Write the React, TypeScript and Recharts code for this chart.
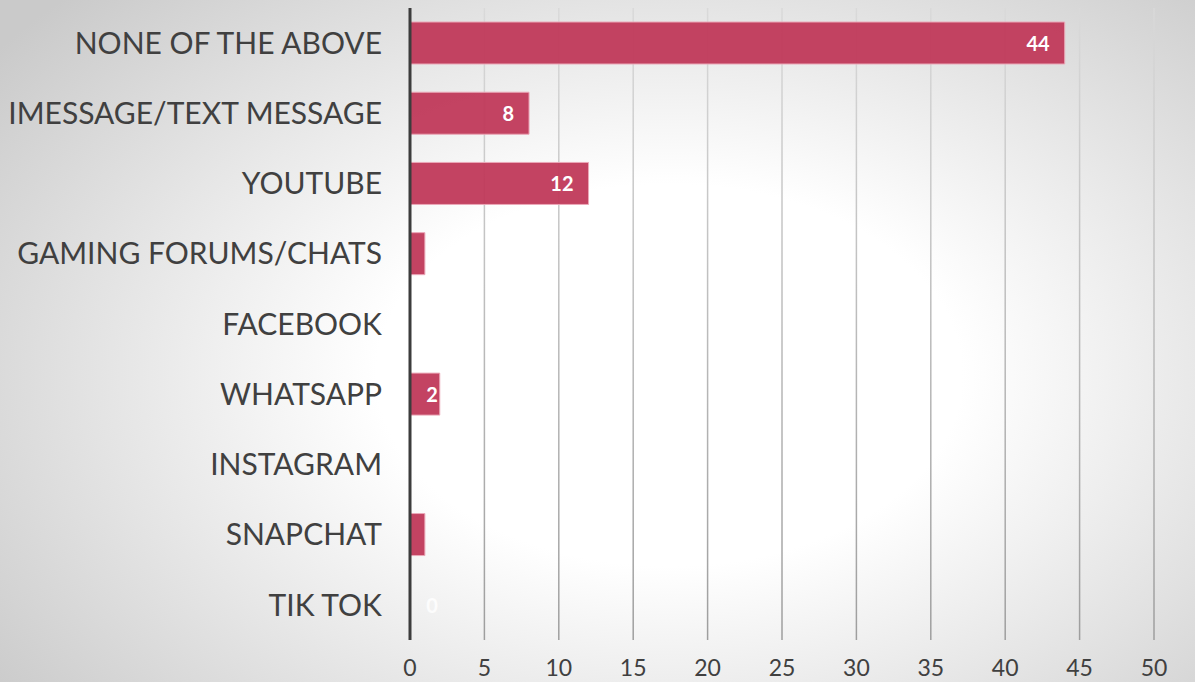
import React from "react";
import { BarChart, Bar, XAxis, YAxis, CartesianGrid, LabelList, ReferenceDot } from "recharts";

const categories = [
  "NONE OF THE ABOVE",
  "IMESSAGE/TEXT MESSAGE",
  "YOUTUBE",
  "GAMING FORUMS/CHATS",
  "FACEBOOK",
  "WHATSAPP",
  "INSTAGRAM",
  "SNAPCHAT",
  "TIK TOK",
];
const values = [44, 8, 12, 1, 0, 2, 0, 1, 0];
const valueLabels = ["44", "8", "12", "", "", "2", "", "", "0"];
const xTicks = [0, 5, 10, 15, 20, 25, 30, 35, 40, 45, 50];

const data = categories.map((c, i) => ({ name: c, value: values[i], label: valueLabels[i] }));
const zeroLabels = data.filter((d) => d.value === 0 && d.label);

const FONT = "Lato, 'Open Sans', sans-serif";

const renderLabel = (props: any) => {
  const { x, y, width, height, value } = props;
  const text = value == null ? "" : String(value);
  if (!text) return null;
  const cy = y + height / 2;
  const tx = width < 40 ? x + width - 2 : x + width - 15;
  return (
    <text x={tx} y={cy} fill="#ffffff" fontFamily={FONT} fontWeight={700} fontSize={20} textAnchor="end" dominantBaseline="central">
      {text}
    </text>
  );
};

const renderZeroLabel = (text: string) => (props: any) => {
  const vb = props.viewBox || {};
  const cx = (vb.x ?? 0) + (vb.width ?? 0) / 2;
  const cy = (vb.y ?? 0) + (vb.height ?? 0) / 2;
  return (
    <text x={cx + 22} y={cy} fill="#ffffff" fillOpacity={0.85} fontFamily={FONT} fontWeight={700} fontSize={20} textAnchor="middle" dominantBaseline="central">
      {text}
    </text>
  );
};

export default function App() {
  return (
    <div
      style={{
        position: "absolute",
        left: 0,
        top: 0,
        width: 1195,
        height: 682,
        background: "radial-gradient(ellipse 70% 80% at 56% 55%, #ffffff 0%, #ffffff 35%, #cacaca 100%)",
        overflow: "hidden",
      }}
    >
      <BarChart
        width={1195}
        height={682}
        data={data}
        layout="vertical"
        margin={{ top: 8, right: 41, left: 0, bottom: 0 }}
      >
        <defs>
          <linearGradient id="gridGrad" gradientUnits="userSpaceOnUse" x1="0" y1="0" x2="0" y2="682">
            <stop offset="0%" stopColor="#dadada" />
            <stop offset="100%" stopColor="#9a9a9a" />
          </linearGradient>
        </defs>
        <CartesianGrid horizontal={false} vertical={true} stroke="url(#gridGrad)" strokeWidth={1.5} />
        <XAxis
          type="number"
          domain={[0, 50]}
          ticks={xTicks}
          interval={0}
          axisLine={false}
          tickLine={false}
          height={42}
          tickSize={0}
          tickMargin={20}
          tick={{ fill: "#404040", fontSize: 23, fontFamily: FONT }}
        />
        <YAxis
          type="category"
          dataKey="name"
          width={410}
          interval={0}
          tickLine={false}
          tickSize={0}
          tickMargin={28}
          axisLine={{ stroke: "#3c3c3c", strokeWidth: 3 }}
          tick={{ fill: "#404040", fontSize: 30, fontFamily: FONT }}
        />
        <Bar
          dataKey="value"
          barSize={42}
          fill="#c0395a"
          fillOpacity={0.95}
          stroke="#eba8b8"
          strokeWidth={1}
          isAnimationActive={false}
        >
          <LabelList dataKey="label" content={renderLabel} />
        </Bar>
        {zeroLabels.map((d) => (
          <ReferenceDot
            key={d.name}
            x={d.value}
            y={d.name}
            r={0}
            fill="none"
            stroke="none"
            label={renderZeroLabel(d.label)}
          />
        ))}
      </BarChart>
    </div>
  );
}
